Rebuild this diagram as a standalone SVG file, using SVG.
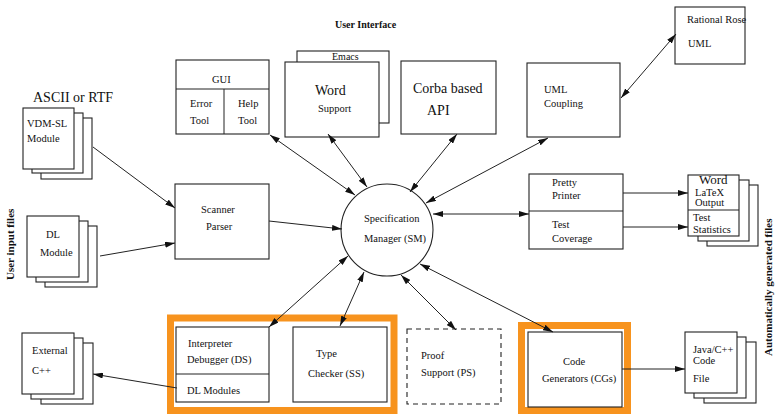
<svg xmlns="http://www.w3.org/2000/svg" width="777" height="415" viewBox="0 0 777 415">
<defs>
<marker id="ah" viewBox="0 0 10 6" refX="10" refY="3" markerWidth="10" markerHeight="6" orient="auto-start-reverse" markerUnits="userSpaceOnUse"><path d="M0,0 L10,3 L0,6 z" fill="#111"/></marker>
<style>
text{font-family:"Liberation Serif","Times New Roman",serif;fill:#111;font-size:10.5px}
.big{font-size:14px}
.bold{font-weight:bold;font-size:10px}
.rot{font-weight:bold;font-size:11px}
.box{fill:#fff;stroke:#222;stroke-width:1.1}
.dash{fill:#fff;stroke:#222;stroke-width:1.1;stroke-dasharray:5,4}
.org{fill:none;stroke:#F7931E;stroke-width:7}
.ln{fill:none;stroke:#222;stroke-width:1}
.one{marker-end:url(#ah)}
.two{marker-start:url(#ah);marker-end:url(#ah)}
</style>
</defs>
<rect width="777" height="415" fill="#fff"/>

<text class="bold" x="335" y="28">User Interface</text>
<text class="rot" transform="translate(14,280) rotate(-90)">User input files</text>
<text class="rot" transform="translate(772,356) rotate(-90)">Automatically generated files</text>

<g id="ascii">
<text class="big" x="33" y="102">ASCII or RTF</text>
</g>
<g id="vdmsl">
<rect class="box" x="41" y="118" width="51" height="61"/>
<rect class="box" x="32" y="113" width="51" height="60"/>
<rect class="box" x="23" y="108" width="51" height="61"/>
<text x="27" y="127">VDM-SL</text>
<text x="27" y="142">Module</text>
</g>
<g id="dlmodule">
<rect class="box" x="45" y="226" width="52" height="61"/>
<rect class="box" x="36" y="221" width="52" height="61"/>
<rect class="box" x="27" y="216" width="52" height="61"/>
<text x="46" y="238">DL</text>
<text x="40" y="256">Module</text>
</g>
<g id="external">
<rect class="box" x="41" y="343" width="52" height="61"/>
<rect class="box" x="31" y="338" width="52" height="61"/>
<rect class="box" x="22" y="333" width="52" height="61"/>
<text x="32" y="354">External</text>
<text x="32" y="374">C++</text>
</g>
<g id="scanner">
<rect class="box" x="175" y="184" width="94" height="75"/>
<text x="201" y="213">Scanner</text>
<text x="206" y="230">Parser</text>
</g>
<g id="gui">
<rect class="box" x="176" y="60" width="93" height="74"/>
<line class="ln" x1="176" y1="89" x2="269" y2="89"/>
<line class="ln" x1="224" y1="89" x2="224" y2="134"/>
<text x="212" y="83">GUI</text>
<text x="190" y="107">Error</text>
<text x="190" y="124">Tool</text>
<text x="238" y="107">Help</text>
<text x="238" y="124">Tool</text>
</g>
<g id="word">
<rect class="box" x="297" y="51" width="92" height="72"/>
<text x="332" y="59.5" style="font-size:10px">Emacs</text>
<rect class="box" x="285" y="62" width="94" height="75"/>
<text class="big" x="315" y="95">Word</text>
<text x="318" y="112">Support</text>
</g>
<g id="corba">
<rect class="box" x="401" y="61" width="95" height="73"/>
<text class="big" x="413" y="93">Corba based</text>
<text class="big" x="427" y="115">API</text>
</g>
<g id="umlcoupling">
<rect class="box" x="527" y="63" width="93" height="74"/>
<text x="544" y="93">UML</text>
<text x="544" y="107">Coupling</text>
</g>
<g id="rose">
<rect class="box" x="675" y="7" width="70" height="57"/>
<text x="687" y="23">Rational Rose</text>
<text x="688" y="47">UML</text>
</g>
<g id="sm">
<circle cx="387" cy="230" r="46" fill="#fff" stroke="#222" stroke-width="1.1"/>
<text x="364" y="222">Specification</text>
<text x="364" y="242">Manager (SM)</text>
</g>
<g id="pretty">
<rect class="box" x="529" y="174" width="94" height="75"/>
<line class="ln" x1="529" y1="211" x2="623" y2="211"/>
<text x="552" y="186">Pretty</text>
<text x="552" y="199">Printer</text>
<text x="552" y="228">Test</text>
<text x="552" y="242">Coverage</text>
</g>
<g id="output">
<rect class="box" x="707" y="185" width="51" height="61"/>
<rect class="box" x="698" y="180" width="51" height="61"/>
<rect class="box" x="688" y="175" width="51" height="61"/>
<line class="ln" x1="688" y1="210" x2="739" y2="210"/>
<text x="699" y="184" style="font-size:13px">Word</text>
<text x="695" y="196">LaTeX</text>
<text x="695" y="206">Output</text>
<text x="693" y="221">Test</text>
<text x="693" y="233">Statistics</text>
</g>
<g id="analysis">
<rect class="org" x="170.5" y="318" width="223.5" height="92.5"/>
</g>
<g id="interpreter">
<rect class="box" x="176" y="327" width="93" height="75"/>
<line class="ln" x1="176" y1="374" x2="269" y2="374"/>
<text x="188" y="347">Interpreter</text>
<text x="187" y="363">Debugger (DS)</text>
<text x="187" y="394">DL Modules</text>
</g>
<g id="typechecker">
<rect class="box" x="293" y="327" width="94" height="75"/>
<text x="316" y="357">Type</text>
<text x="308" y="377">Checker (SS)</text>
</g>
<g id="proof">
<rect class="dash" x="407" y="329" width="94" height="75"/>
<text x="421" y="359">Proof</text>
<text x="421" y="376">Support (PS)</text>
</g>
<g id="codegen">
<rect class="org" x="521.5" y="325.5" width="106" height="85"/>
<rect class="box" x="528" y="332" width="94" height="75"/>
<text x="563" y="365">Code</text>
<text x="542" y="382">Generators (CGs)</text>
</g>
<g id="java">
<rect class="box" x="704" y="342" width="52" height="61"/>
<rect class="box" x="694" y="337" width="52" height="61"/>
<rect class="box" x="685" y="332" width="52" height="61"/>
<text x="693" y="353">Java/C++</text>
<text x="693" y="364">Code</text>
<text x="693" y="382">File</text>
</g>

<g id="connectors">
<line class="ln one" x1="93" y1="147" x2="175" y2="208"/>
<line class="ln one" x1="100" y1="256" x2="175" y2="243"/>
<line class="ln one" x1="269" y1="221" x2="342" y2="229"/>
<line class="ln two" x1="270" y1="135" x2="355" y2="195"/>
<line class="ln two" x1="328" y1="134" x2="367" y2="187"/>
<line class="ln two" x1="457" y1="134" x2="410" y2="192"/>
<line class="ln two" x1="548" y1="138" x2="426" y2="203"/>
<line class="ln two" x1="621" y1="98" x2="676" y2="34"/>
<line class="ln two" x1="433" y1="214" x2="529" y2="214"/>
<line class="ln one" x1="623" y1="193" x2="688" y2="193"/>
<line class="ln one" x1="623" y1="227" x2="688" y2="227"/>
<line class="ln two" x1="269" y1="327" x2="348" y2="256"/>
<line class="ln two" x1="340" y1="326" x2="364" y2="272"/>
<line class="ln two" x1="456" y1="330" x2="401" y2="275"/>
<line class="ln two" x1="553" y1="332" x2="420" y2="264"/>
<line class="ln one" x1="622" y1="369" x2="685" y2="369"/>
<line class="ln one" x1="177" y1="388" x2="93" y2="374"/>
</g>
</svg>
